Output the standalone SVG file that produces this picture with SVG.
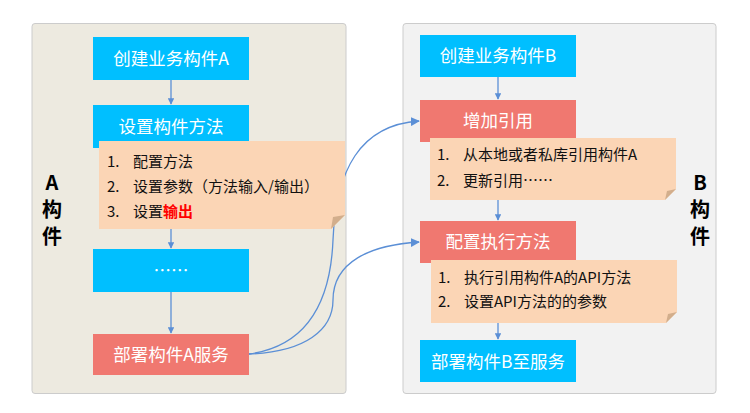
<svg xmlns="http://www.w3.org/2000/svg" width="750" height="413" viewBox="0 0 750 413">
<defs>
<marker id="ah" viewBox="0 0 10 10" refX="9" refY="5" markerWidth="5" markerHeight="5" orient="auto"><path d="M0,0 L10,5 L0,10 z" fill="#5B8FD6"/></marker>
<marker id="ahb" viewBox="0 0 10 10" refX="9" refY="5" markerWidth="7" markerHeight="7" orient="auto"><path d="M0,0 L10,5 L0,10 z" fill="#5B8FD6"/></marker>
<style>
.t{font-family:"Microsoft YaHei","Noto Sans CJK SC",sans-serif;}
.bt{font-size:17.5px;fill:#fff;text-anchor:middle;}
.nt{font-size:15px;fill:#111;}
.lab{font-size:20px;font-weight:bold;fill:#000;text-anchor:middle;}
.blue{fill:#00BFFF;}
.red{fill:#F07870;}
.note{fill:#FBD5B5;}
.fold{fill:#D2AE8C;}
.ln{stroke:#5B8FD6;stroke-width:1.3;fill:none;}
</style>
</defs>
<rect x="32" y="23.5" width="314" height="370" rx="3" fill="#EDEAE0" stroke="#CCCCCC" stroke-width="1"/>
<rect x="403" y="23.5" width="313" height="370" rx="3" fill="#F2F2F2" stroke="#CCCCCC" stroke-width="1"/>
<g id="labelA" class="t lab"><text x="52" y="190">A</text><text x="52" y="217">构</text><text x="52" y="244">件</text></g>
<g id="labelB" class="t lab"><text x="700" y="190">B</text><text x="700" y="217">构</text><text x="700" y="244">件</text></g>
<g id="connectors">
<line class="ln" x1="171" y1="80" x2="171" y2="104" marker-end="url(#ah)"/>
<line class="ln" x1="171" y1="229" x2="171" y2="248" marker-end="url(#ah)"/>
<line class="ln" x1="171" y1="292" x2="171" y2="333" marker-end="url(#ah)"/>
<line class="ln" x1="498" y1="77" x2="498" y2="99" marker-end="url(#ah)"/>
<line class="ln" x1="498" y1="200" x2="498" y2="220" marker-end="url(#ah)"/>
<line class="ln" x1="498" y1="323" x2="498" y2="339" marker-end="url(#ah)"/>
<path class="ln" d="M249,354 C315,345 331,290 333,240 C336,170 360,125 419,121" marker-end="url(#ahb)"/>
<path class="ln" d="M249,354 C305,352 333,330 333,300 C333,262 370,245 419,242" marker-end="url(#ahb)"/>
</g>
<g id="a1"><rect class="blue" x="93" y="37" width="156" height="43"/><text class="t bt" x="171" y="65">创建业务构件A</text></g>
<g id="a2"><rect class="blue" x="93" y="105" width="156" height="43"/><text class="t bt" x="171" y="133">设置构件方法</text></g>
<g id="a2note"><polygon class="note" points="99,141 345,141 345,215 331,229 99,229"/><polygon class="fold" points="331,229 345,215 333,217"/>
<text class="t nt" x="107" y="167">1.</text><text class="t nt" x="133" y="167">配置方法</text>
<text class="t nt" x="107" y="192">2.</text><text class="t nt" x="133" y="192">设置参数（方法输入/输出）</text>
<text class="t nt" x="107" y="217">3.</text><text class="t nt" x="133" y="217">设置<tspan fill="#FF0000" font-weight="bold">输出</tspan></text></g>
<g id="a3"><rect class="blue" x="93" y="249" width="156" height="43"/><text class="t bt" x="171" y="277">……</text></g>
<g id="a4"><rect class="red" x="93" y="334" width="156" height="41"/><text class="t bt" x="171" y="361">部署构件A服务</text></g>
<g id="b1"><rect class="blue" x="420" y="35" width="156" height="42"/><text class="t bt" x="498" y="62">创建业务构件B</text></g>
<g id="b2"><rect class="red" x="420" y="100" width="156" height="42"/><text class="t bt" x="498" y="127">增加引用</text></g>
<g id="b2note"><polygon class="note" points="430,138 676,138 676,189 665,200 430,200"/><polygon class="fold" points="665,200 676,189 667,191"/>
<text class="t nt" x="437" y="160">1.</text><text class="t nt" x="463" y="160">从本地或者私库引用构件A</text>
<text class="t nt" x="437" y="186">2.</text><text class="t nt" x="463" y="186">更新引用……</text></g>
<g id="b3"><rect class="red" x="420" y="221" width="156" height="42"/><text class="t bt" x="498" y="248">配置执行方法</text></g>
<g id="b3note"><polygon class="note" points="431,260 677,260 677,312 666,323 431,323"/><polygon class="fold" points="666,323 677,312 668,314"/>
<text class="t nt" x="438" y="283">1.</text><text class="t nt" x="464" y="283">执行引用构件A的API方法</text>
<text class="t nt" x="438" y="307">2.</text><text class="t nt" x="464" y="307">设置API方法的的参数</text></g>
<g id="b4"><rect class="blue" x="420" y="340" width="156" height="42"/><text class="t bt" x="498" y="368">部署构件B至服务</text></g>
</svg>
